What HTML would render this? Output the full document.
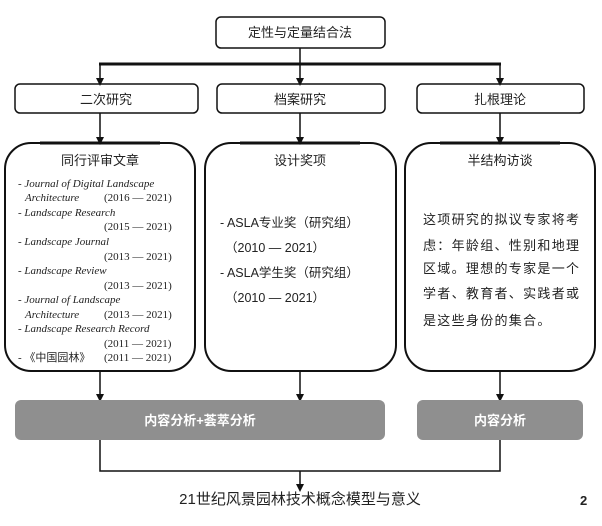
<!DOCTYPE html>
<html><head><meta charset="utf-8"><style>
body{margin:0;background:#fff;}
svg text{font-family:"Liberation Sans","Noto Sans CJK SC",sans-serif;fill:#222;}
.it{font-family:"Liberation Serif","Noto Serif CJK SC",serif;font-style:italic;font-size:11px;}
.sr{font-family:"Liberation Serif","Noto Sans CJK SC",serif;font-size:11px;}
</style></head><body>
<svg width="602" height="521" viewBox="0 0 602 521" xmlns="http://www.w3.org/2000/svg">
<defs><marker id="a" markerWidth="8" markerHeight="8" refX="4" refY="4" orient="auto" markerUnits="userSpaceOnUse"><path d="M0,0 L8,4 L0,8 z" fill="#111"/></marker></defs>
<g stroke="#111" fill="none">
<rect x="216" y="17" width="169" height="31" rx="5" stroke-width="1.5"/>
<line x1="300" y1="48" x2="300" y2="64" stroke-width="1.5"/>
<line x1="99" y1="64" x2="501" y2="64" stroke-width="3"/>
<line x1="100" y1="64" x2="100" y2="82" stroke-width="1.5" marker-end="url(#a)"/>
<line x1="300" y1="64" x2="300" y2="82" stroke-width="1.5" marker-end="url(#a)"/>
<line x1="500" y1="64" x2="500" y2="82" stroke-width="1.5" marker-end="url(#a)"/>
<rect x="15" y="84" width="183" height="29" rx="5" stroke-width="1.5"/>
<rect x="217" y="84" width="168" height="29" rx="5" stroke-width="1.5"/>
<rect x="417" y="84" width="167" height="29" rx="5" stroke-width="1.5"/>
<line x1="100" y1="113" x2="100" y2="141" stroke-width="1.5" marker-end="url(#a)"/>
<line x1="300" y1="113" x2="300" y2="141" stroke-width="1.5" marker-end="url(#a)"/>
<line x1="500" y1="113" x2="500" y2="141" stroke-width="1.5" marker-end="url(#a)"/>
<rect x="5" y="143" width="190" height="228" rx="26" stroke-width="2"/>
<rect x="205" y="143" width="191" height="228" rx="26" stroke-width="2"/>
<rect x="405" y="143" width="190" height="228" rx="26" stroke-width="2"/>
<line x1="40" y1="143" x2="160" y2="143" stroke-width="3"/>
<line x1="240" y1="143" x2="360" y2="143" stroke-width="3"/>
<line x1="440" y1="143" x2="560" y2="143" stroke-width="3"/>
<line x1="100" y1="371" x2="100" y2="398" stroke-width="1.5" marker-end="url(#a)"/>
<line x1="300" y1="371" x2="300" y2="398" stroke-width="1.5" marker-end="url(#a)"/>
<line x1="500" y1="371" x2="500" y2="398" stroke-width="1.5" marker-end="url(#a)"/>
<polyline points="100,440 100,471 500,471 500,440" stroke-width="1.5"/>
<line x1="300" y1="471" x2="300" y2="488" stroke-width="1.5" marker-end="url(#a)"/>
</g>
<rect x="15" y="400" width="370" height="40" rx="6" fill="#8f8f8f"/>
<rect x="417" y="400" width="166" height="40" rx="6" fill="#8f8f8f"/>
<g font-size="13" text-anchor="middle">
<text x="300" y="37">定性与定量结合法</text>
<text x="106" y="104">二次研究</text>
<text x="300" y="104">档案研究</text>
<text x="500" y="104">扎根理论</text>
<text x="100" y="165">同行评审文章</text>
<text x="300" y="165">设计奖项</text>
<text x="500" y="165">半结构访谈</text>
<text x="200" y="425" fill="#fff" style="fill:#fff;font-weight:bold">内容分析+荟萃分析</text>
<text x="500" y="425" style="fill:#fff;font-weight:bold">内容分析</text>
<text x="300" y="504" font-size="15">21世纪风景园林技术概念模型与意义</text>
</g>
<text x="580" y="505" font-size="13" font-weight="bold">2</text>
<g>
<text class="it" x="18" y="187">- Journal of Digital Landscape</text>
<text class="it" x="25" y="201">Architecture</text><text class="sr" x="104" y="201">(2016 — 2021)</text>
<text class="it" x="18" y="216">- Landscape Research</text>
<text class="sr" x="104" y="230">(2015 — 2021)</text>
<text class="it" x="18" y="245">- Landscape Journal</text>
<text class="sr" x="104" y="260">(2013 — 2021)</text>
<text class="it" x="18" y="274">- Landscape Review</text>
<text class="sr" x="104" y="289">(2013 — 2021)</text>
<text class="it" x="18" y="303">- Journal of Landscape</text>
<text class="it" x="25" y="318">Architecture</text><text class="sr" x="104" y="318">(2013 — 2021)</text>
<text class="it" x="18" y="332">- Landscape Research Record</text>
<text class="sr" x="104" y="347">(2011 — 2021)</text>
<text class="sr" x="18" y="361">- 《中国园林》</text><text class="sr" x="104" y="361">(2011 — 2021)</text>
</g>
<g font-size="12.5">
<text x="220" y="227">- ASLA专业奖（研究组）</text>
<text x="225" y="252">（2010 — 2021）</text>
<text x="220" y="277">- ASLA学生奖（研究组）</text>
<text x="225" y="302">（2010 — 2021）</text>
</g>
<g font-size="13" letter-spacing="1.3">
<text x="423" y="224">这项研究的拟议专家将考</text>
<text x="423" y="250">虑：年龄组、性别和地理</text>
<text x="423" y="273">区域。理想的专家是一个</text>
<text x="423" y="298">学者、教育者、实践者或</text>
<text x="423" y="325">是这些身份的集合。</text>
</g>
</svg>
</body></html>
